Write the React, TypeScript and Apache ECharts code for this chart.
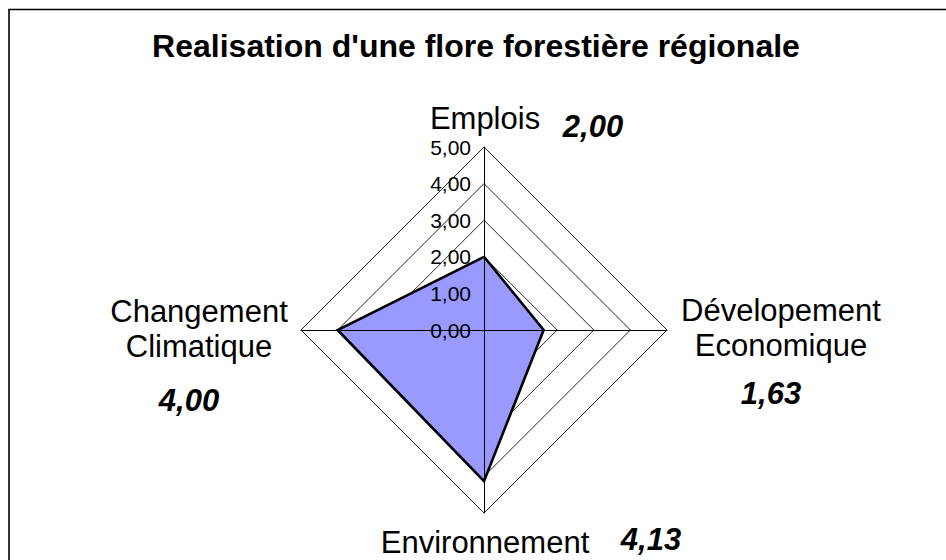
import React, { useEffect, useRef } from "react";
import * as echarts from "echarts";

const title = "Realisation d'une flore forestière régionale";
const categories = ["Emplois", "Dévelopement\nEconomique", "Environnement", "Changement\nClimatique"];
const values = [2.0, 1.63, 4.13, 4.0];
const valueLabels = ["2,00", "1,63", "4,13", "4,00"];
const axisMax = 5;
const tickCount = 5;

// ECharts radar goes counter-clockwise; Excel goes clockwise from the top.
const order = [0, 3, 2, 1];

const CX = 484;
const CY = 330;
const R = 183;
const FONT = "'Liberation Sans', Arial, sans-serif";

const fmt = (v: number) => v.toFixed(2).replace(".", ",");

export default function App() {
  const ref = useRef<HTMLDivElement>(null);
  useEffect(() => {
    document.body.style.margin = "0";
    const chart = echarts.init(ref.current!, null, { renderer: "svg" });
    const indicator = order.map((i) => ({ name: categories[i], min: 0, max: axisMax }));
    const indicatorTop = order.map((i, k) => ({
      name: categories[i],
      min: 0,
      max: axisMax,
      axisLabel: { show: k === 0 },
    }));
    const labelPos: Record<number, [number, number, string]> = {
      0: [485, 118, "center"],
      1: [781, 328, "center"],
      2: [485, 542, "center"],
      3: [199, 329, "center"],
    };
    const valuePos: Record<number, [number, number]> = {
      0: [593, 126],
      1: [771, 393],
      2: [651, 539],
      3: [189, 400],
    };
    const graphics: any[] = [
      {
        type: "rect",
        shape: { x: 9, y: 9.5, width: 1000, height: 1000 },
        style: { fill: "none", stroke: "#000", lineWidth: 1.6 },
        silent: true,
        z: 10,
      },
      {
        type: "text",
        x: 476,
        y: 46,
        style: {
          text: title,
          font: `bold 32px ${FONT}`,
          fill: "#000",
          textAlign: "center",
          textVerticalAlign: "middle",
        },
      },
    ];
    categories.forEach((c, i) => {
      const [x, y, a] = labelPos[i];
      graphics.push({
        type: "text",
        x,
        y,
        style: {
          text: c,
          font: `31px ${FONT}`,
          lineHeight: 35,
          fill: "#000",
          textAlign: a,
          textVerticalAlign: "middle",
        },
      });
      const [vx, vy] = valuePos[i];
      graphics.push({
        type: "text",
        x: vx,
        y: vy,
        style: {
          text: valueLabels[i],
          font: `italic bold 31px ${FONT}`,
          fill: "#000",
          textAlign: "center",
          textVerticalAlign: "middle",
        },
      });
    });

    const seriesData = order.map((i) => values[i]);

    chart.setOption({
      animation: false,
      backgroundColor: "#fff",
      radar: [
        {
          center: [CX, CY],
          radius: R,
          shape: "polygon",
          startAngle: 90,
          splitNumber: tickCount,
          indicator,
          axisName: { show: false },
          axisLine: { show: false },
          axisTick: { show: false },
          axisLabel: { show: false },
          splitArea: { show: false },
          splitLine: { lineStyle: { color: "#222", width: 1 } },
          z: 0,
        },
        {
          center: [CX, CY],
          radius: R,
          shape: "polygon",
          startAngle: 90,
          splitNumber: tickCount,
          indicator: indicatorTop,
          axisName: { show: false },
          axisLine: { show: true, lineStyle: { color: "#000", width: 1 } },
          axisTick: { show: false },
          axisLabel: {
            show: true,
            formatter: (v: number) => fmt(v),
            color: "#000",
            fontFamily: FONT,
            fontSize: 21,
            margin: 13,
          },
          splitArea: { show: false },
          splitLine: { show: false },
          z: 5,
        },
      ],
      series: [
        {
          type: "radar",
          radarIndex: 0,
          symbol: "none",
          z: 3,
          lineStyle: { width: 0, opacity: 0 },
          areaStyle: { color: "#9999FF", opacity: 1 },
          data: [{ value: seriesData }],
        },
        {
          type: "radar",
          radarIndex: 0,
          symbol: "none",
          z: 6,
          lineStyle: { color: "#000", width: 2.6, join: "miter" },
          data: [{ value: seriesData }],
        },
      ],
      graphic: graphics,
    });
    return () => chart.dispose();
  }, []);
  return <div ref={ref} style={{ width: 946, height: 560 }} />;
}
